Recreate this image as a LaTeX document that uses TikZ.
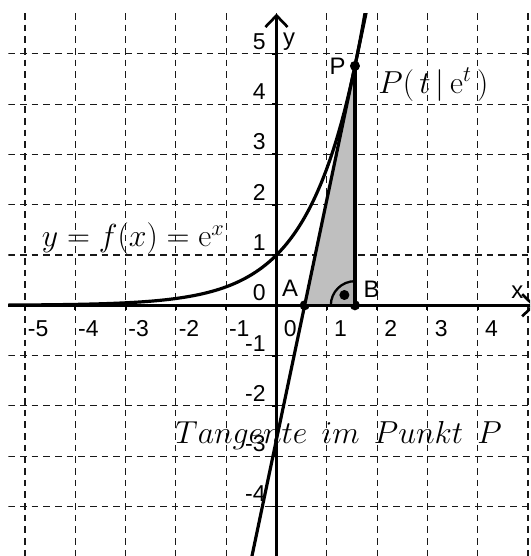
\RequirePackage{fix-cm}
\documentclass[tikz,border=0pt]{standalone}
\usepackage{fontspec}
\newfontfamily\arialf{Liberation Sans}
\usetikzlibrary{arrows.meta,calc}
\tikzset{
  gridline/.style={black!90, line width=0.6pt, dash pattern=on 3.8pt off 2.8pt},
  axisline/.style={line width=1.5pt, -{Straight Barb[length=6.5pt,width=12.5pt]}},
  ticklab/.style={font=\arialf\fontsize{13}{15}\selectfont, inner sep=0pt},
  ptlab/.style={font=\arialf\fontsize{13.5}{15}\selectfont, inner sep=0pt, anchor=center},
  mathlab/.style={font=\fontsize{18}{21}\selectfont, inner sep=0pt, anchor=base west},
  ptdot/.style={circle, fill=black, inner sep=0pt, minimum size=0.2cm},
  thickcurve/.style={line width=1.8pt}
}
\begin{document}
\begin{tikzpicture}
\useasboundingbox (-5.497,-4.984) rectangle (5.040,6.070);
\clip (-5.497,-4.984) rectangle (5.040,6.070);
% points
\node[ptdot] (A) at (0.56,0) {};
\node[ptdot] (B) at (1.56,0) {};
\node[ptdot] (P) at (1.56,4.759) {};
\coordinate (T1) at ({0.56-5.1/4.759},-5.1);
\coordinate (T2) at ({0.56+5.9/4.759},5.9);
\begin{scope}
  \clip (-5.33,-5.1) rectangle (5.2,5.81);
  % grid
  \foreach \k in {-5,...,5} \draw[gridline] (\k,5.81) -- (\k,-5.1);
  \foreach \k in {-4,...,5} \draw[gridline] (-5.33,\k) -- (5.2,\k);
  % triangle
  \fill[gray!50] (A.center) -- (B.center) -- (P.center) -- cycle;
  \fill[gray!62] (B.center) -- ++(-0.48,0) arc[start angle=180,end angle=90,radius=0.48] -- cycle;
  \draw[line width=1.3pt] (B.center) ++(-0.48,0) arc[start angle=180,end angle=90,radius=0.48];
  \node[ptdot] (R) at (1.35,0.205) {};
  % curve
  \draw[thickcurve, domain=-5.33:1.78, samples=160, smooth] plot (\x,{exp(\x)});
  % tangent
  \draw[thickcurve] (T1) -- (A.center) -- (P.center) -- (T2);
  \draw[thickcurve] (P.center) -- (B.center);
\end{scope}
% axes
\coordinate (XL) at (-5.33,0);
\coordinate (XR) at (5.15,0);
\coordinate (YB) at (0,-5.1);
\coordinate (YT) at (0,5.80);
\draw[axisline] (XL) -- (XR);
\draw[axisline] (YB) -- (YT);
\foreach \k in {-5,...,4} \draw[line width=1.1pt] (\k,0) -- (\k,-0.09);
\foreach \k in {-4,...,5} \draw[line width=1.1pt] (0,\k) -- (-0.09,\k);
% tick labels
\foreach \k in {-5,...,-1} \node[ticklab, anchor=base west] at (\k+0.05,-0.63) {\k};
\foreach \k in {0,...,4} \node[ticklab, anchor=base west] at (\k+0.14,-0.63) {\k};
\foreach \k in {-4,...,5} \node[ticklab, anchor=base east] at (-0.21,\k+0.09) {\k};
% point and axis labels
\node[ptlab] (Alab) at (0.268,0.334) {A};
\node[ptlab] (Blab) at (1.893,0.318) {B};
\node[ptlab] (Plab) at (1.213,4.76) {P};
\node[ptlab] (xlab) at (4.79,0.254) {x};
\node[ptlab] (ylab) at (0.249,5.24) {y};
% math labels
\node[mathlab] (flab) at (-4.67,1.165) {$y = f(x) = \mathrm{e}^x$};
\node[mathlab] (Pt) at (2.02,4.215) {$P(\,t\,|\,\mathrm{e}^t\,)$};
\node[mathlab] (tang) at (-2.02,-2.744) {$Tangente\hspace{0.45em}im\hspace{0.45em}Punkt\hspace{0.45em}P$};
\end{tikzpicture}
\end{document}
